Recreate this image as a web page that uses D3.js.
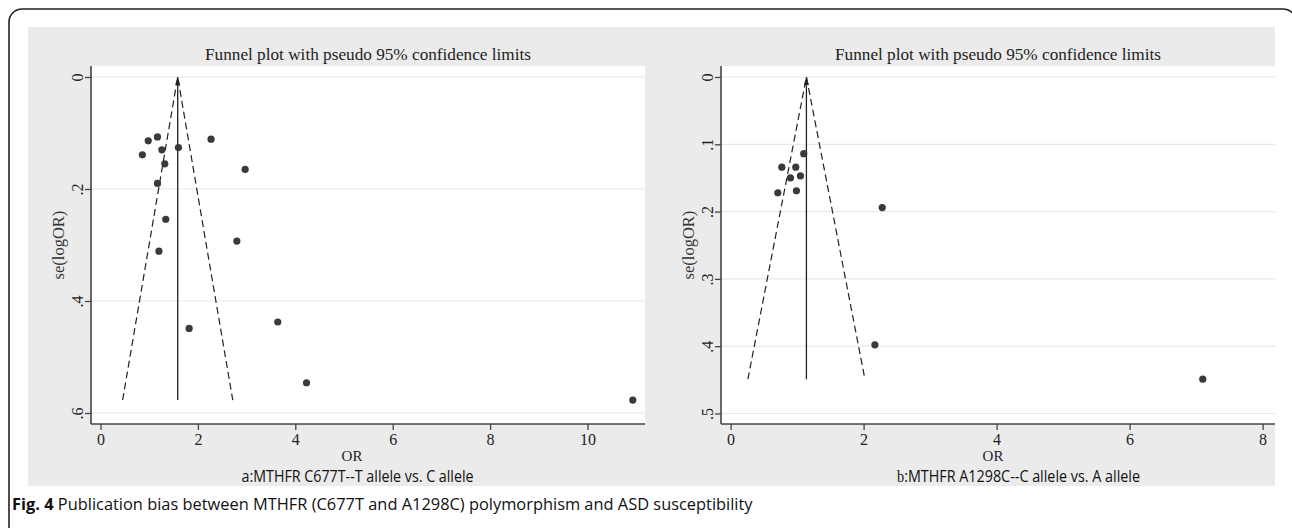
<!DOCTYPE html>
<html><head><meta charset="utf-8">
<script src="https://cdn.jsdelivr.net/npm/d3@7"></script>
<style>
html,body{margin:0;padding:0;background:#fff;}
svg{display:block;}
</style></head>
<body>
<svg id="c" width="1292" height="528"></svg>
<script>
// ---------- data ----------
const chartTitle = "Funnel plot with pseudo 95% confidence limits";
const yLabel = "se(logOR)";
const xLabel = "OR";

const leftOR = [0.98, 1.17, 0.86, 1.26, 1.60, 2.27, 1.32, 2.97, 1.17, 1.34, 1.20, 2.80, 1.82, 3.64, 4.23, 10.93];
const leftSE = [0.114, 0.107, 0.139, 0.130, 0.126, 0.111, 0.155, 0.165, 0.190, 0.254, 0.311, 0.293, 0.449, 0.4375, 0.546, 0.577];
const leftPooled = 1.585;
const leftMaxSE = 0.577;
const leftXTicks = [0, 2, 4, 6, 8, 10];
const leftYTicks = [0, 0.2, 0.4, 0.6];
const leftSub = "a:MTHFR C677T--T allele vs. C allele";

const rightOR = [1.10, 0.77, 0.98, 0.90, 1.05, 0.71, 0.99, 2.28, 2.17, 7.10];
const rightSE = [0.114, 0.134, 0.134, 0.150, 0.147, 0.172, 0.169, 0.194, 0.398, 0.449];
const rightPooled = 1.14;
const rightMaxSE = 0.449;
const rightXTicks = [0, 2, 4, 6, 8];
const rightYTicks = [0, 0.1, 0.2, 0.3, 0.4, 0.5];
const rightSubPrefix = "b";
const rightSubRest = ":MTHFR A1298C--C allele vs. A allele";

const captionBold = "Fig. 4";
const captionRest = " Publication bias between MTHFR (C677T and A1298C) polymorphism and ASD susceptibility";

// ---------- drawing ----------
const svg = d3.select("#c");
const serif = "'Liberation Serif','Times New Roman',serif";
const sans = "'Open Sans','Noto Sans',sans-serif";

// outer frame
svg.append("rect").attr("x", 9).attr("y", 9).attr("width", 1287).attr("height", 560)
  .attr("rx", 13).attr("fill", "none").attr("stroke", "#222").attr("stroke-width", 1.6);

function panel(cfg) {
  const g = svg.append("g");
  const x = d3.scaleLinear().domain(cfg.xDom).range(cfg.xRange);
  const y = d3.scaleLinear().domain(cfg.yDom).range(cfg.yRange);
  const L = cfg.plotL, R = cfg.plotR, T = 66, B = 424;

  g.append("rect").attr("x", cfg.grayL).attr("y", 27).attr("width", cfg.grayR - cfg.grayL).attr("height", 459)
    .attr("fill", "#ebebeb");
  g.append("rect").attr("x", L).attr("y", T).attr("width", R - L).attr("height", B - T).attr("fill", "#fff");

  // gridlines
  g.selectAll("line.grid").data(cfg.yTicks).join("line")
    .attr("x1", L).attr("x2", R).attr("y1", d => y(d)).attr("y2", d => y(d))
    .attr("stroke", "#e9e9e9").attr("stroke-width", 1.2);

  // title
  g.append("text").attr("x", (L + R) / 2).attr("y", 60).attr("text-anchor", "middle")
    .attr("font-family", serif).attr("font-size", 16.5).attr("fill", "#222")
    .attr("textLength", 326).attr("lengthAdjust", "spacingAndGlyphs").text(chartTitle);

  // funnel lines
  const fl = d3.line().x(d => x(d[0])).y(d => y(d[1]));
  const p = cfg.pooled, m = cfg.maxSE;
  g.append("path").attr("d", fl([[p - 1.96 * m, m], [p, 0], [p + 1.96 * m, m]]))
    .attr("fill", "none").attr("stroke", "#222").attr("stroke-width", 1.2).attr("stroke-dasharray", "7,4");
  g.append("path").attr("d", fl([[p, m], [p, 0]]))
    .attr("fill", "none").attr("stroke", "#222").attr("stroke-width", 1.3);
  g.append("path").attr("d", `M${x(p)},${y(0)} l-2.5,8 l5,0 Z`).attr("fill", "#222");

  // points
  g.selectAll("circle").data(cfg.or.map((v, i) => [v, cfg.se[i]])).join("circle")
    .attr("cx", d => x(d[0])).attr("cy", d => y(d[1])).attr("r", 3.6).attr("fill", "#3a3a3a");

  // axes
  const fmtY = d => d === 0 ? "0" : d3.format(".1f")(d).replace(/^0/, "");
  const ya = g.append("g").attr("transform", `translate(${L},0)`)
    .call(d3.axisLeft(y).tickValues(cfg.yTicks).tickSize(6).tickFormat(fmtY));
  ya.select(".domain").attr("d", `M0,${T}V${B}`).attr("stroke", "#444").attr("stroke-width", 1.6);
  ya.selectAll(".tick line").attr("stroke", "#444").attr("stroke-width", 1.3);
  ya.selectAll(".tick text").attr("font-family", serif).attr("font-size", 16).attr("fill", "#222")
    .attr("text-anchor", "middle").attr("x", 0).attr("y", 0).attr("dy", "0.35em")
    .attr("transform", "translate(-14,0) rotate(-90)");

  const xa = g.append("g").attr("transform", `translate(0,${B})`)
    .call(d3.axisBottom(x).tickValues(cfg.xTicks).tickSize(6).tickFormat(d3.format("d")));
  xa.select(".domain").attr("d", `M${L},0H${R}`).attr("stroke", "#444").attr("stroke-width", 1.6);
  xa.selectAll(".tick line").attr("stroke", "#444").attr("stroke-width", 1.3);
  xa.selectAll(".tick text").attr("font-family", serif).attr("font-size", 16).attr("fill", "#222")
    .attr("y", 10).attr("dy", "0.71em");

  // axis titles
  g.append("text").attr("transform", `translate(${L - 33},${(T + B) / 2}) rotate(-90)`)
    .attr("text-anchor", "middle").attr("dy", "0.35em")
    .attr("font-family", serif).attr("font-size", 16.5).attr("fill", "#333").text(yLabel);
  g.append("text").attr("x", cfg.orX).attr("y", 461).attr("text-anchor", "middle")
    .attr("font-family", serif).attr("font-size", 15).attr("fill", "#222").text(xLabel);
  const st = g.append("text").attr("x", cfg.subX).attr("y", 481.5).attr("text-anchor", "middle")
    .attr("font-family", sans).attr("font-size", 16).attr("fill", "#111")
    .attr("textLength", cfg.subW).attr("lengthAdjust", "spacingAndGlyphs");
  if (cfg.subPrefix) {
    st.append("tspan").attr("font-family", serif).text(cfg.subPrefix);
    st.append("tspan").text(cfg.subRest);
  } else st.text(cfg.subRest);
}

panel({
  xDom: [0, 10], xRange: [100.5, 587.5], yDom: [0, 0.6], yRange: [77, 413],
  plotL: 91, plotR: 645, grayL: 28, grayR: 645,
  yTicks: leftYTicks, xTicks: leftXTicks,
  or: leftOR, se: leftSE, pooled: leftPooled, maxSE: leftMaxSE,
  orX: 352, subX: 357.6, subW: 232, subRest: leftSub
});
panel({
  xDom: [0, 8], xRange: [730.6, 1262.6], yDom: [0, 0.5], yRange: [77, 413.5],
  plotL: 721, plotR: 1275, grayL: 645, grayR: 1275,
  yTicks: rightYTicks, xTicks: rightXTicks,
  or: rightOR, se: rightSE, pooled: rightPooled, maxSE: rightMaxSE,
  orX: 993, subX: 1018.5, subW: 243, subPrefix: rightSubPrefix, subRest: rightSubRest
});

// caption
const cap = svg.append("text").attr("x", 12).attr("y", 510)
  .attr("font-family", sans).attr("font-size", 16.4).attr("fill", "#111");
cap.append("tspan").attr("font-weight", "bold").text(captionBold);
cap.append("tspan").text(captionRest);
</script>
</body></html>
